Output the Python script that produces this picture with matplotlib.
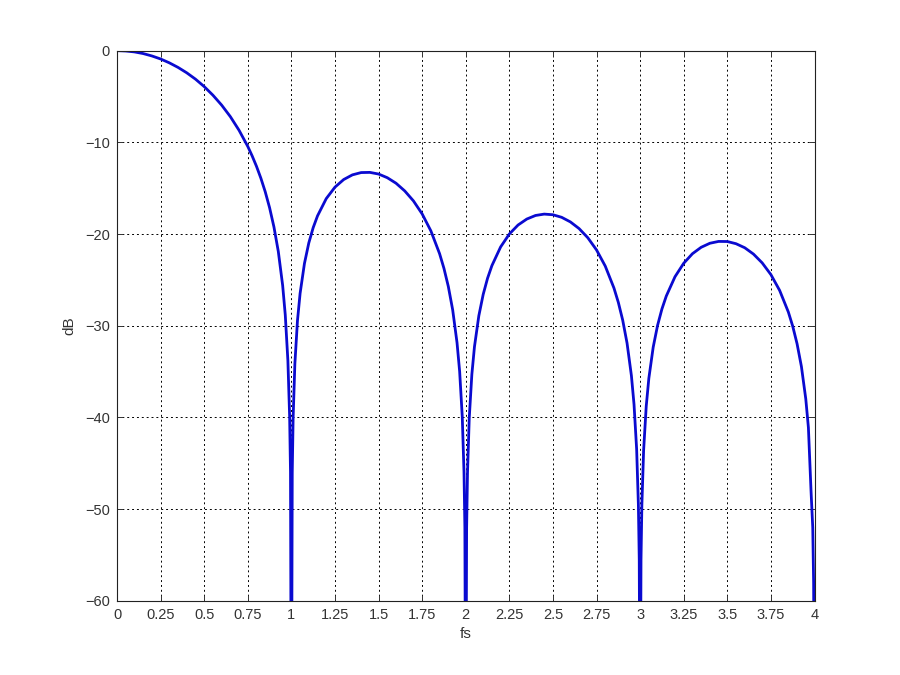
import matplotlib
matplotlib.use("Agg")
import matplotlib.pyplot as plt

# Values (frequency in fs, magnitude in dB)
freq = [0.0, 0.05, 0.1, 0.15, 0.2, 0.25, 0.3, 0.35, 0.4, 0.45, 0.5, 0.55, 0.6, 0.65, 0.7, 0.75,
        0.775, 0.8, 0.825, 0.85, 0.875, 0.9, 0.925, 0.95, 0.965, 0.98, 0.99, 0.995, 1.0,
        1.005, 1.01, 1.02, 1.035, 1.05, 1.075, 1.1, 1.125, 1.15, 1.2, 1.25, 1.3, 1.35, 1.4, 1.45,
        1.5, 1.55, 1.6, 1.65, 1.7, 1.75, 1.8, 1.85, 1.875, 1.9, 1.925, 1.95, 1.965, 1.98, 1.99,
        1.995, 2.0,
        2.005, 2.01, 2.02, 2.035, 2.05, 2.075, 2.1, 2.125, 2.15, 2.2, 2.25, 2.3, 2.35, 2.4, 2.45,
        2.5, 2.55, 2.6, 2.65, 2.7, 2.75, 2.8, 2.85, 2.875, 2.9, 2.925, 2.95, 2.965, 2.98, 2.99,
        2.995, 3.0,
        3.005, 3.01, 3.02, 3.035, 3.05, 3.075, 3.1, 3.125, 3.15, 3.2, 3.25, 3.3, 3.35, 3.4, 3.45,
        3.5, 3.55, 3.6, 3.65, 3.7, 3.75, 3.8, 3.85, 3.875, 3.9, 3.925, 3.95, 3.965, 3.98, 3.99,
        3.995, 4.0]
db = [0.0, -0.04, -0.14, -0.32, -0.58, -0.91, -1.33, -1.83, -2.42, -3.11, -3.92, -4.86, -5.94, -7.20, -8.69, -10.45,
      -11.48, -12.62, -13.91, -15.39, -17.13, -19.23, -21.90, -25.61, -28.83, -33.81, -39.91, -45.98, -80.0,
      -46.07, -40.09, -34.16, -29.44, -26.48, -23.21, -20.97, -19.31, -18.02, -16.14, -14.89, -14.06, -13.55, -13.30, -13.28,
      -13.46, -13.86, -14.46, -15.30, -16.39, -17.81, -19.66, -22.15, -23.75, -25.72, -28.27, -31.86, -35.00, -39.92, -45.98,
      -52.02, -80.0,
      -52.06, -46.07, -40.09, -35.31, -32.29, -28.92, -26.59, -24.83, -23.45, -21.41, -20.00, -19.02, -18.37, -17.98, -17.83,
      -17.90, -18.18, -18.68, -19.41, -20.41, -21.74, -23.50, -25.90, -27.46, -29.39, -31.90, -35.45, -38.58, -43.47, -49.51,
      -55.55, -80.0,
      -55.58, -49.57, -43.59, -38.78, -35.74, -32.34, -29.97, -28.18, -26.77, -24.66, -23.19, -22.15, -21.45, -21.01, -20.81,
      -20.82, -21.06, -21.50, -22.19, -23.15, -24.43, -26.15, -28.51, -30.05, -31.97, -34.46, -37.99, -41.10, -47.98, -52.02,
      -58.05, -80.0]

xticks = [0, 0.25, 0.5, 0.75, 1, 1.25, 1.5, 1.75, 2, 2.25, 2.5, 2.75, 3, 3.25, 3.5, 3.75, 4]
xticklabels = ["0", "0.25", "0.5", "0.75", "1", "1.25", "1.5", "1.75", "2", "2.25", "2.5", "2.75",
               "3", "3.25", "3.5", "3.75", "4"]
yticks = [-60, -50, -40, -30, -20, -10, 0]
yticklabels = ["\u221260", "\u221250", "\u221240", "\u221230", "\u221220", "\u221210", "0"]

plt.rcParams['font.family'] = ['Liberation Sans', 'DejaVu Sans']

fig = plt.figure(figsize=(9, 6.75), dpi=100)
ax = fig.add_axes([0.13, 0.11, 0.775, 0.815])
ax.plot(freq, db, color='#0a0ad0', linewidth=2.0, solid_joinstyle='round')
ax.set_xlim(0, 4)
ax.set_ylim(-60, 0)
ax.set_xticks(xticks)
ax.set_xticklabels(xticklabels)
ax.set_yticks(yticks)
ax.set_yticklabels(yticklabels)
ax.grid(True, color='black', linestyle=(0, (2, 3)), linewidth=0.7)
ax.tick_params(direction='in', length=4, width=0.7, labelsize=10.5, colors='#333333', pad=5,
               top=True, right=True)
for s in ax.spines.values():
    s.set_linewidth(0.8)
    s.set_color('#222222')
ax.set_xlabel('fs', fontsize=11, color='#333333', labelpad=4)
ax.set_ylabel('dB', fontsize=11, color='#333333', labelpad=6)
fig.savefig('out.png', dpi=100)
